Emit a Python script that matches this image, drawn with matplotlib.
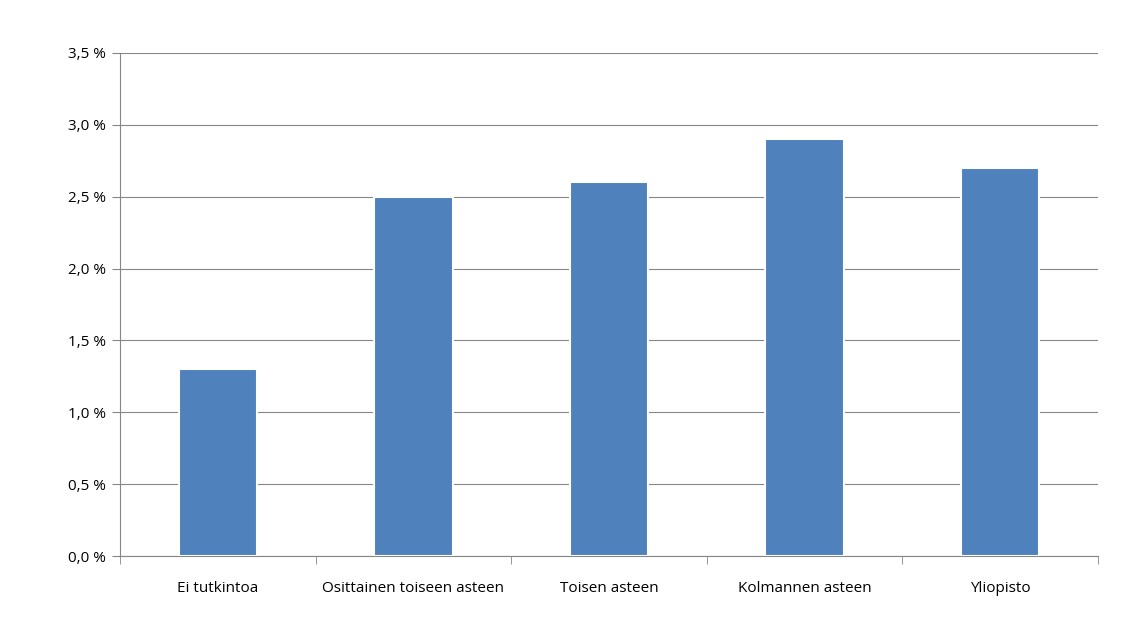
import matplotlib
matplotlib.use("Agg")
import matplotlib.pyplot as plt
from matplotlib.ticker import FuncFormatter, FixedLocator
import numpy as np

categories = ["Ei tutkintoa", "Osittainen toiseen asteen", "Toisen asteen", "Kolmannen asteen", "Yliopisto"]
values = [1.3, 2.5, 2.6, 2.9, 2.7]

plt.rcParams['font.family'] = ['Open Sans', 'DejaVu Sans']
fig = plt.figure(figsize=(11.29, 6.17), dpi=100)
ax = fig.add_axes([120/1129, 1-556/617, (1098-120)/1129, (556-53)/617])
x = np.arange(len(categories))
ax.bar(x, values, width=0.4, color="#4F81BD", edgecolor="white", linewidth=1.5, zorder=3)
ax.set_xlim(-0.5, len(categories)-0.5)
ax.set_ylim(0, 3.5)
ax.set_yticks(np.arange(0, 3.51, 0.5))
ax.yaxis.set_major_formatter(FuncFormatter(lambda v, p: f"{v:.1f} %".replace(".", ",")))
ax.yaxis.grid(True, color="#868686", linewidth=0.8, zorder=0)
ax.set_xticks(x)
ax.set_xticklabels(categories)
ax.xaxis.set_minor_locator(FixedLocator(np.arange(-0.5, len(categories), 1)))
ax.tick_params(axis='x', which='major', length=0, pad=18, labelsize=11)
ax.tick_params(axis='x', which='minor', length=6, color="#868686")
ax.tick_params(axis='y', length=6, color="#868686", labelsize=11, pad=4)
for s in ['top', 'right']:
    ax.spines[s].set_visible(False)
for s in ['left', 'bottom']:
    ax.spines[s].set_color("#868686")
fig.savefig("out.png", dpi=100)
